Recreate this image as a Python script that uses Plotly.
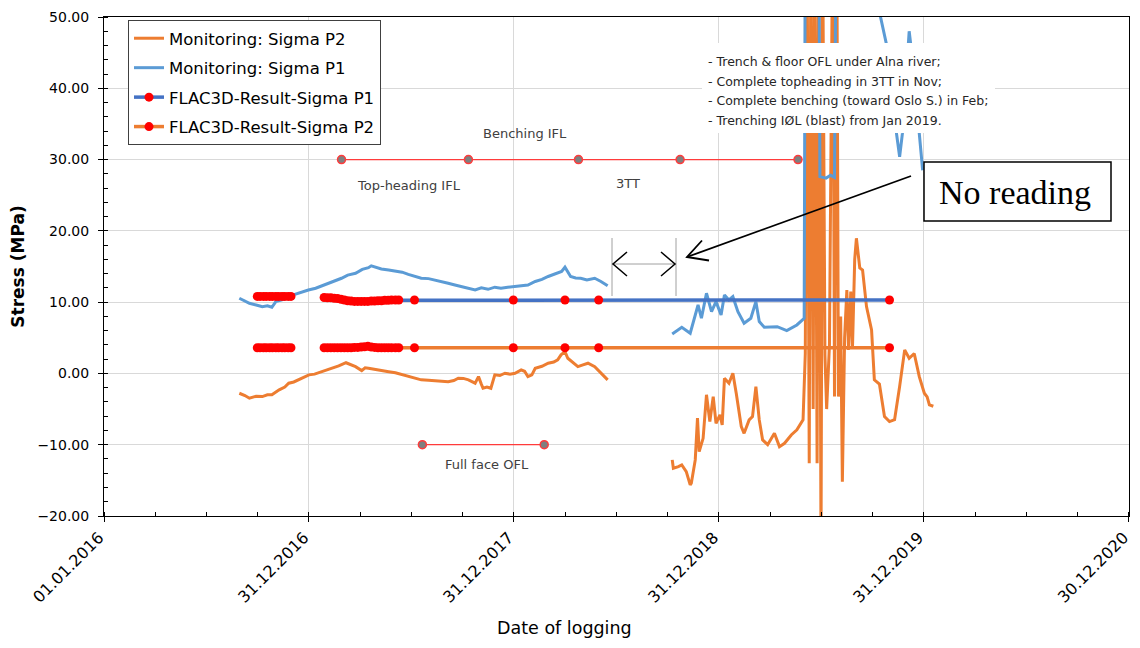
import plotly.graph_objects as go

# ---------------- data ----------------
# Monitoring: Sigma P1 (MPa)
p1_seg1_dates = ["2016-08-29", "2016-09-08", "2016-09-16", "2016-09-28", "2016-10-09", "2016-10-18",
                 "2016-10-26", "2016-11-02", "2016-11-12", "2016-11-25", "2016-12-06", "2016-12-19",
                 "2016-12-30", "2017-01-12", "2017-01-24", "2017-02-04", "2017-02-16", "2017-02-27",
                 "2017-03-10", "2017-03-24", "2017-04-05", "2017-04-16", "2017-04-21", "2017-05-01",
                 "2017-05-09", "2017-05-22", "2017-06-03", "2017-06-15", "2017-06-26", "2017-07-08",
                 "2017-07-19", "2017-08-01", "2017-08-13", "2017-08-25", "2017-09-05", "2017-09-17",
                 "2017-09-28", "2017-10-10", "2017-10-23", "2017-11-03", "2017-11-15", "2017-11-27",
                 "2017-12-08", "2017-12-20", "2018-01-02", "2018-01-14", "2018-01-25", "2018-02-07",
                 "2018-02-19", "2018-03-02", "2018-03-12", "2018-03-19", "2018-03-26", "2018-04-01",
                 "2018-04-11", "2018-04-20", "2018-04-29", "2018-05-10", "2018-05-24", "2018-06-04",
                 "2018-06-16"]
p1_seg1_vals = [10.55, 10.1, 9.84, 9.6, 9.37, 9.5,
                9.28, 10.07, 10.3, 10.6, 11.1, 11.47,
                11.7, 11.95, 12.3, 12.65, 13.0, 13.35,
                13.8, 14.05, 14.6, 14.84, 15.1, 14.8,
                14.66, 14.5, 14.38, 14.2, 13.9, 13.6,
                13.35, 13.3, 13.1, 12.9, 12.65, 12.4,
                12.2, 11.9, 11.7, 12.0, 11.8, 12.1,
                11.95, 12.1, 12.2, 12.3, 12.4, 12.9,
                13.2, 13.6, 13.9, 14.05, 14.3, 14.9,
                13.6, 13.4, 13.35, 13.1, 13.35, 12.9,
                12.3]
p1_seg2_dates = ["2018-10-09", "2018-10-26", "2018-11-10", "2018-11-19", "2018-11-24", "2018-11-30",
                 "2018-12-09", "2018-12-18", "2018-12-26", "2019-01-04", "2019-01-10", "2019-01-18",
                 "2019-01-25", "2019-02-03", "2019-02-14", "2019-02-26", "2019-03-07", "2019-03-13",
                 "2019-03-22", "2019-04-14", "2019-05-01", "2019-05-19", "2019-06-01", "2019-06-03",
                 "2019-06-27", "2019-06-29", "2019-07-10", "2019-07-18", "2019-07-25", "2019-07-28",
                 "2019-10-08", "2019-10-15", "2019-10-26", "2019-11-05", "2019-11-12", "2019-11-18",
                 "2019-11-23", "2019-11-30", "2019-12-05", "2019-12-11", "2019-12-18", "2019-12-25",
                 "2019-12-29"]
p1_seg2_vals = [5.54, 6.48, 5.64, 7.97, 9.6, 7.74,
                11.25, 8.67, 10.07, 8.2, 11.0, 10.3,
                10.77, 8.67, 7.04, 7.74, 10.07, 7.27,
                6.48, 6.56, 6.0, 6.8, 7.74, 65.0,
                65.0, 27.6, 27.4, 27.8, 27.5, 65.0,
                60.0, 50.0, 46.0, 38.0, 33.7, 30.4,
                33.7, 42.0, 48.0, 44.0, 38.0, 33.0,
                28.5]

# Monitoring: Sigma P2 (MPa)
p2_seg1_dates = ["2016-08-29", "2016-09-08", "2016-09-16", "2016-09-28", "2016-10-09", "2016-10-18",
                 "2016-10-26", "2016-11-08", "2016-11-18", "2016-11-25", "2016-12-04", "2016-12-13",
                 "2016-12-22", "2016-12-31", "2017-01-10", "2017-01-18", "2017-01-27", "2017-02-04",
                 "2017-02-13", "2017-02-22", "2017-03-07", "2017-03-15", "2017-03-24", "2017-04-04",
                 "2017-04-10", "2017-04-16", "2017-04-28", "2017-05-09", "2017-05-22", "2017-06-03",
                 "2017-06-15", "2017-06-26", "2017-07-08", "2017-07-19", "2017-08-01", "2017-08-13",
                 "2017-08-25", "2017-09-05", "2017-09-15", "2017-09-23", "2017-10-02", "2017-10-11",
                 "2017-10-23", "2017-10-29", "2017-11-03", "2017-11-06", "2017-11-13", "2017-11-20",
                 "2017-11-27", "2017-12-06", "2017-12-15", "2017-12-24", "2018-01-02", "2018-01-13",
                 "2018-01-19", "2018-01-25", "2018-02-01", "2018-02-07", "2018-02-19", "2018-03-02",
                 "2018-03-12", "2018-03-19", "2018-03-25", "2018-04-01", "2018-04-06", "2018-04-15",
                 "2018-04-24", "2018-05-03", "2018-05-12", "2018-05-24", "2018-06-04", "2018-06-16"]
p2_seg1_vals = [-2.78, -3.1, -3.48, -3.2, -3.25, -3.0,
                -3.0, -2.3, -1.9, -1.37, -1.2, -0.9,
                -0.6, -0.2, -0.1, 0.1, 0.3, 0.5,
                0.8, 1.05, 1.5, 1.2, 0.95, 0.4,
                0.8, 0.73, 0.6, 0.4, 0.25, 0.1,
                -0.15, -0.45, -0.7, -0.9, -0.95, -1.0,
                -1.1, -1.15, -1.0, -0.68, -0.7, -0.9,
                -1.37, -0.45, -1.5, -2.08, -1.9, -2.08,
                -0.2, -0.3, 0.03, -0.1, 0.03, 0.5,
                0.3, -0.45, -0.2, 0.73, 1.0, 1.43,
                1.6, 1.9, 2.6, 3.06, 2.13, 1.5,
                0.95, 1.2, 1.43, 0.95, 0.03, -0.9]
p2_seg2_dates = ["2018-10-09", "2018-10-11", "2018-10-20", "2018-10-26", "2018-11-03", "2018-11-10",
                 "2018-11-12", "2018-11-19", "2018-11-23", "2018-11-26", "2018-12-03", "2018-12-09",
                 "2018-12-15", "2018-12-21", "2018-12-26", "2019-01-02", "2019-01-06", "2019-01-10",
                 "2019-01-18", "2019-01-25", "2019-01-31", "2019-02-09", "2019-02-14", "2019-02-23",
                 "2019-03-01", "2019-03-07", "2019-03-13", "2019-03-19", "2019-03-28", "2019-04-09",
                 "2019-04-18", "2019-04-27", "2019-05-09", "2019-05-19", "2019-05-30", "2019-06-03",
                 "2019-06-06", "2019-06-10", "2019-06-13", "2019-06-17", "2019-06-20", "2019-06-24",
                 "2019-06-27", "2019-07-01", "2019-07-04", "2019-07-08", "2019-07-11", "2019-07-16",
                 "2019-07-22", "2019-07-25", "2019-07-29", "2019-08-01", "2019-08-05", "2019-08-08",
                 "2019-08-12", "2019-08-16", "2019-08-19", "2019-08-23", "2019-08-26", "2019-08-30",
                 "2019-09-02", "2019-09-08", "2019-09-13", "2019-09-20", "2019-09-29", "2019-10-04",
                 "2019-10-13", "2019-10-22", "2019-10-31", "2019-11-09", "2019-11-18", "2019-11-27",
                 "2019-12-05", "2019-12-14", "2019-12-23", "2020-01-01", "2020-01-06", "2020-01-10",
                 "2020-01-17"]
p2_seg2_vals = [-12.13, -13.3, -13.07, -12.83, -13.77, -15.64,
                -15.4, -12.13, -6.28, -10.97, -9.1, -3.0,
                -6.76, -3.25, -7.0, -5.82, -7.22, -0.68,
                -1.37, 0.03, -2.78, -7.46, -8.4, -6.52,
                -6.05, -1.84, -6.52, -9.33, -10.0, -8.4,
                -10.27, -9.8, -8.63, -7.92, -6.52, 2.83,
                65.0, -12.6, 65.0, -5.0, 65.0, -12.6,
                65.0, -25.0, 60.0, 2.5, -5.0, 4.0,
                65.0, -3.25, 65.0, -3.25, 8.0, -15.2,
                5.0, 11.7, 3.3, 11.5, 3.5, 16.0,
                18.96, 14.8, 14.5, 9.37, 6.1, -0.9,
                -1.5, -6.05, -6.76, -6.5, -1.84, 3.3,
                2.13, 2.8, -0.45, -2.78, -3.3, -4.4,
                -4.6]

# FLAC3D results (MPa)
flac_c1_dates = ["2016-09-30", "2016-10-05", "2016-10-11", "2016-10-16", "2016-10-22", "2016-10-27",
                 "2016-11-02", "2016-11-07", "2016-11-13", "2016-11-18", "2016-11-24", "2016-11-29"]
flac_p1_c1 = [10.8, 10.8, 10.8, 10.8, 10.8, 10.8, 10.8, 10.8, 10.8, 10.8, 10.8, 10.8]
flac_p2_c1 = [3.6, 3.6, 3.6, 3.6, 3.6, 3.6, 3.6, 3.6, 3.6, 3.6, 3.6, 3.6]
flac_c2_dates = ["2017-01-27", "2017-02-02", "2017-02-08", "2017-02-14", "2017-02-20", "2017-02-26",
                 "2017-03-04", "2017-03-10", "2017-03-16", "2017-03-22", "2017-03-28", "2017-04-03",
                 "2017-04-09", "2017-04-15", "2017-04-21", "2017-04-27", "2017-05-03", "2017-05-09",
                 "2017-05-15", "2017-05-21", "2017-05-27", "2017-06-03", "2017-06-09",
                 "2017-07-07", "2017-12-30", "2018-04-01", "2018-05-31", "2019-10-31"]
flac_p1_c2 = [10.65, 10.6, 10.6, 10.55, 10.5, 10.4, 10.3, 10.2, 10.15, 10.1, 10.1, 10.1,
              10.1, 10.1, 10.15, 10.15, 10.2, 10.2, 10.25, 10.25, 10.3, 10.3, 10.3,
              10.3, 10.3, 10.3, 10.3, 10.3]
flac_p2_c2 = [3.6, 3.6, 3.6, 3.6, 3.6, 3.6, 3.6, 3.6, 3.6, 3.65, 3.65, 3.7,
              3.75, 3.8, 3.7, 3.65, 3.6, 3.6, 3.6, 3.6, 3.6, 3.6, 3.6,
              3.6, 3.6, 3.6, 3.6, 3.6]

# construction stages
stage_dates = ["2017-02-27", "2017-10-11", "2018-04-25", "2018-10-23", "2019-05-21"]
stage_vals = [30, 30, 30, 30, 30]
ofl_dates = ["2017-07-21", "2018-02-23"]
ofl_vals = [-10, -10]

x_tickvals = ["2016-01-01", "2016-12-31", "2017-12-31", "2018-12-31", "2019-12-31", "2020-12-30"]
x_ticktext = ["01.01.2016", "31.12.2016", "31.12.2017", "31.12.2018", "31.12.2019", "30.12.2020"]

notes = ["- Trench & floor OFL under Alna river;",
         "- Complete topheading in 3TT in Nov;",
         "- Complete benching (toward Oslo S.) in Feb;",
         "- Trenching IØL (blast) from Jan 2019."]

# ---------------- figure ----------------
C_P1 = "#5B9BD5"
C_P2 = "#ED7D31"
C_F1 = "#4472C4"
FONT = "DejaVu Sans, sans-serif"

def joined(d1, v1, d2, v2):
    return d1 + [None] + d2, v1 + [None] + v2

fig = go.Figure()

x, y = joined(p2_seg1_dates, p2_seg1_vals, p2_seg2_dates, p2_seg2_vals)
fig.add_trace(go.Scatter(x=x, y=y, mode="lines", name="Monitoring: Sigma P2",
                         line=dict(color=C_P2, width=3), connectgaps=False, legendgroup="a"))
x, y = joined(p1_seg1_dates, p1_seg1_vals, p1_seg2_dates, p1_seg2_vals)
fig.add_trace(go.Scatter(x=x, y=y, mode="lines", name="Monitoring: Sigma P1",
                         line=dict(color=C_P1, width=3), connectgaps=False, legendgroup="b"))
x, y = joined(flac_c1_dates, flac_p1_c1, flac_c2_dates, flac_p1_c2)
fig.add_trace(go.Scatter(x=x, y=y, mode="lines+markers", name="FLAC3D-Result-Sigma P1",
                         line=dict(color=C_F1, width=3.5), connectgaps=False,
                         marker=dict(color="#FF0000", size=9), legendgroup="c"))
x, y = joined(flac_c1_dates, flac_p2_c1, flac_c2_dates, flac_p2_c2)
fig.add_trace(go.Scatter(x=x, y=y, mode="lines+markers", name="FLAC3D-Result-Sigma P2",
                         line=dict(color=C_P2, width=3.5), connectgaps=False,
                         marker=dict(color="#FF0000", size=9), legendgroup="d"))

for xs, ys in ((stage_dates, stage_vals), (ofl_dates, ofl_vals)):
    fig.add_trace(go.Scatter(x=xs, y=ys, mode="lines+markers", showlegend=False,
                             line=dict(color="#FF3B3B", width=1.2),
                             marker=dict(color="#7F7F7F", size=8,
                                         line=dict(color="#FF3B3B", width=1.5))))

# stage labels
stage_labels = [("Top-heading IFL", "2017-06-28", 26.4),
                ("Benching IFL", "2018-01-20", 33.6),
                ("3TT", "2018-07-22", 26.7),
                ("Full face OFL", "2017-11-13", -12.8)]
for txt, xd, yv in stage_labels:
    fig.add_annotation(x=xd, y=yv, xref="x", yref="y", text=txt, showarrow=False,
                       xanchor="center", yanchor="middle",
                       font=dict(family=FONT, size=13, color="#404040"))

# The page body adds an 8 px offset; keep the whole page inside the 1140x648 window.
# Plot frame in the screenshot: x 104..1129, y 17..516.
OFF = 8
W, H = 1140 - 2 * OFF, 648 - 2 * OFF
L, R, T, B = 104, 1129, 17, 516
def px(v):
    return (v - L) / (R - L)
def py(v):
    return (B - v) / (B - T)

shapes = []
# white note box
shapes.append(dict(type="rect", xref="paper", yref="paper", x0=px(702), x1=px(995),
                   y0=py(133), y1=py(43), fillcolor="white", line=dict(width=0), layer="above"))
for i, t in enumerate(notes):
    fig.add_annotation(x=px(706), y=py(62 + 19.5 * i), xref="paper", yref="paper", text=t,
                       showarrow=False, xanchor="left", yanchor="middle",
                       font=dict(family=FONT, size=12.5, color="#262626"))
# "No reading" box
shapes.append(dict(type="rect", xref="paper", yref="paper", x0=px(924), x1=px(1111),
                   y0=py(221), y1=py(162), fillcolor="white",
                   line=dict(color="black", width=1.5), layer="above"))
fig.add_annotation(x=px(1015), y=py(192), xref="paper", yref="paper", text="No reading",
                   showarrow=False, xanchor="center", yanchor="middle",
                   font=dict(family="Liberation Serif, Times New Roman, serif",
                             size=34, color="black"))
# long arrow with open head
shapes.append(dict(type="line", xref="paper", yref="paper", x0=px(911), y0=py(176),
                   x1=px(687), y1=py(257), line=dict(color="black", width=1.8), layer="above"))
shapes.append(dict(type="path", xref="paper", yref="paper",
                   path=f"M {px(702)} {py(240.5)} L {px(687)} {py(257)} L {px(709)} {py(260.5)}",
                   line=dict(color="black", width=1.8), layer="above"))
# no-reading span marker
for xv in (612, 676):
    shapes.append(dict(type="line", xref="paper", yref="paper", x0=px(xv), x1=px(xv),
                       y0=py(238), y1=py(296), line=dict(color="#A0A0A0", width=1), layer="above"))
shapes.append(dict(type="line", xref="paper", yref="paper", x0=px(612), x1=px(676),
                   y0=py(264), y1=py(264), line=dict(color="#A0A0A0", width=1), layer="above"))
shapes.append(dict(type="path", xref="paper", yref="paper",
                   path=f"M {px(627)} {py(252)} L {px(613)} {py(264)} L {px(627)} {py(276)}",
                   line=dict(color="black", width=1.5), layer="above"))
shapes.append(dict(type="path", xref="paper", yref="paper",
                   path=f"M {px(661)} {py(252)} L {px(675)} {py(264)} L {px(661)} {py(276)}",
                   line=dict(color="black", width=1.5), layer="above"))

# x-axis title (placed left of centre as in the original)
fig.add_annotation(x=px(564), y=py(628), xref="paper", yref="paper", text="Date of logging",
                   showarrow=False, xanchor="center", yanchor="middle",
                   font=dict(family=FONT, size=17.5, color="black"))

fig.update_layout(
    width=W, height=H,
    margin=dict(l=L - OFF, r=W - (R - OFF), t=T - OFF, b=H - (B - OFF), autoexpand=False),
    paper_bgcolor="white", plot_bgcolor="white",
    font=dict(family=FONT, size=15, color="black"),
    shapes=shapes,
    legend=dict(x=px(128), y=py(20), xanchor="left", yanchor="top",
                bgcolor="white", bordercolor="#404040", borderwidth=1,
                font=dict(family=FONT, size=16.5, color="black"),
                tracegroupgap=5, itemwidth=30),
    xaxis=dict(type="date", range=["2016-01-01", "2020-12-30 12:00"],
               tickmode="array", tickvals=x_tickvals, ticktext=x_ticktext,
               tickangle=-45, ticks="outside", ticklen=5, tickcolor="black",
               ticklabeloverflow="allow", ticklabelshift=-5,
               showline=True, linecolor="black", linewidth=1, mirror=True,
               showgrid=True, gridcolor="#D9D9D9", gridwidth=1,
               tickfont=dict(family=FONT, size=16, color="black"),
               minor=dict(tickmode="linear", tick0="2016-01-01", dtick=365 * 86400000 / 4,
                          ticks="inside", ticklen=4, tickcolor="black", showgrid=False)),
    yaxis=dict(range=[-20, 50], tickmode="linear", tick0=-20, dtick=10, tickformat=".2f",
               ticks="outside", ticklen=5, tickcolor="black", ticklabelstandoff=6,
               showline=True, linecolor="black", linewidth=1, mirror=True,
               showgrid=True, gridcolor="#D9D9D9", gridwidth=1, zeroline=False,
               tickfont=dict(family=FONT, size=14, color="black"),
               minor=dict(tickmode="linear", tick0=-20, dtick=2, ticks="inside", ticklen=4,
                          tickcolor="black", showgrid=False),
               title=dict(text="<b>Stress (MPa)</b>", standoff=12,
                          font=dict(family=FONT, size=17, color="black"))),
)

fig.write_html("out.html")
